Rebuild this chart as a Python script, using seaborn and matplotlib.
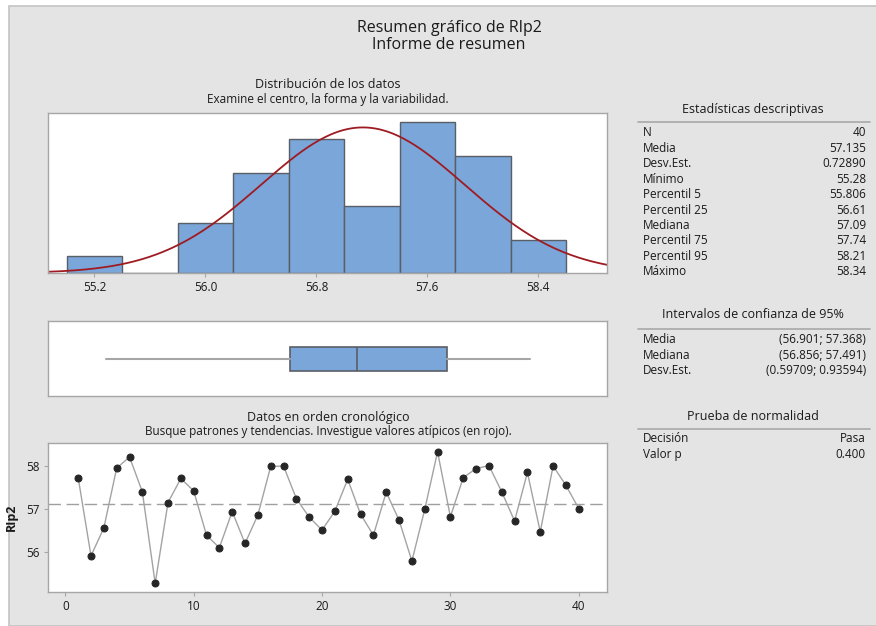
import numpy as np
import pandas as pd
import matplotlib
matplotlib.use("Agg")
import matplotlib.pyplot as plt
from matplotlib.patches import Rectangle
import seaborn as sns

# ---------------- data ----------------
observations = list(range(1, 41))
rip2 = [57.74, 55.92, 56.57, 57.96, 58.22, 57.41, 55.28, 57.16, 57.72, 57.43,
        56.40, 56.11, 56.95, 56.21, 56.87, 58.00, 58.01, 57.25, 56.82, 56.52,
        56.96, 57.70, 56.89, 56.40, 57.40, 56.75, 55.80, 57.00, 58.34, 56.83,
        57.74, 57.95, 58.02, 57.41, 56.73, 57.86, 56.48, 58.01, 57.56, 57.02]

hist_ticks = [55.2, 56.0, 56.8, 57.6, 58.4]
time_xticks = [0, 10, 20, 30, 40]
time_yticks = [56, 57, 58]

desc_labels = ["N", "Media", "Desv.Est.", "Mínimo", "Percentil 5", "Percentil 25",
               "Mediana", "Percentil 75", "Percentil 95", "Máximo"]
desc_values = ["40", "57.135", "0.72890", "55.28", "55.806", "56.61",
               "57.09", "57.74", "58.21", "58.34"]
ci_labels = ["Media", "Mediana", "Desv.Est."]
ci_values = ["(56.901; 57.368)", "(56.856; 57.491)", "(0.59709; 0.93594)"]
norm_labels = ["Decisión", "Valor p"]
norm_values = ["Pasa", "0.400"]

df = pd.DataFrame({"obs": observations, "RIp2": rip2})

# ---------------- style ----------------
sns.set_style("white")
plt.rcParams["font.family"] = ["Open Sans", "DejaVu Sans"]

W, H = 876, 626
fig = plt.figure(figsize=(W / 100, H / 100), dpi=100)
fig.patch.set_facecolor("white")
fig.add_artist(Rectangle((9 / W, 0), 1, 1 - 6 / H, transform=fig.transFigure,
                         facecolor="#E4E4E4", edgecolor="#C4C4C4", lw=1.2, zorder=-10))


def fx(x):
    return x / W


def fy(y):
    return 1 - y / H


def ax_rect(l, t, r, b):
    return [fx(l), fy(b), (r - l) / W, (b - t) / H]


BLUE = "#7BA6D9"
EDGE = "#5A5E66"
GRID = "#A6A6A6"
TXT = "#1a1a1a"

fig.text(fx(449), fy(28), "Resumen gráfico de RIp2", ha="center", va="center",
         fontsize=11.5, color=TXT)
fig.text(fx(449), fy(45), "Informe de resumen", ha="center", va="center",
         fontsize=11.5, color=TXT)


def style_frame(ax):
    for s in ax.spines.values():
        s.set_color(GRID)
        s.set_linewidth(1.0)
    ax.set_facecolor("white")


# ---------------- histogram ----------------
axh = fig.add_axes(ax_rect(48, 113, 607, 273))
edges = np.round(np.arange(55.0, 58.61, 0.4), 2)
sns.histplot(data=df, x="RIp2", bins=edges, ax=axh, color=BLUE, alpha=1,
             edgecolor=EDGE, linewidth=1.0)
mu = float(np.mean(rip2))
sd = float(np.std(rip2, ddof=1))
xs = np.linspace(54.865, 58.895, 300)
ys = len(rip2) * 0.4 * np.exp(-0.5 * ((xs - mu) / sd) ** 2) / (sd * np.sqrt(2 * np.pi))
axh.plot(xs, ys, color="#9E1B22", lw=1.3)
axh.set_xlim(54.865, 58.895)
axh.set_ylim(0, 9.56)
axh.set_xticks(hist_ticks)
axh.set_xticklabels([f"{t:.1f}" for t in hist_ticks])
axh.set_yticks([])
axh.set_xlabel("")
axh.set_ylabel("")
style_frame(axh)
axh.tick_params(axis="x", length=3, color=GRID, labelsize=8.5, pad=3, labelcolor=TXT)
axh.tick_params(axis="x", bottom=True)
fig.text(fx(328), fy(84), "Distribución de los datos", ha="center", va="center",
         fontsize=9, color=TXT)
fig.text(fx(328), fy(99), "Examine el centro, la forma y la variabilidad.",
         ha="center", va="center", fontsize=8.5, color=TXT)

# ---------------- boxplot ----------------
axb = fig.add_axes(ax_rect(48, 321, 607, 396))
arr = np.array(rip2)
q1, med, q3 = np.percentile(arr, [25, 50, 75], method="weibull")
stats = [dict(med=med, q1=q1, q3=q3, whislo=arr.min(), whishi=arr.max(), fliers=[])]
axb.bxp(stats, orientation="horizontal", widths=0.33, positions=[0.494],
        showcaps=False, patch_artist=True,
        boxprops=dict(facecolor=BLUE, edgecolor=EDGE, lw=1.2),
        medianprops=dict(color=EDGE, lw=1.2),
        whiskerprops=dict(color=GRID, lw=1.5))
axb.set_xlim(54.865, 58.895)
axb.set_ylim(0, 1)
axb.set_xticks([])
axb.set_yticks([])
style_frame(axb)

# ---------------- time series ----------------
axt = fig.add_axes(ax_rect(48, 443, 607, 592))
sns.lineplot(data=df, x="obs", y="RIp2", ax=axt, color="#A3A3A3", lw=1.0,
             marker="o", markersize=5, markerfacecolor="#262626",
             markeredgecolor="#262626")
axt.axhline(mu, color="#A0A0A0", lw=1.0, ls=(0, (9, 4)), zorder=0)
axt.set_xlim(-1.35, 42.2)
axt.set_ylim(55.08, 58.545)
axt.set_xticks(time_xticks)
axt.set_yticks(time_yticks)
axt.set_xlabel("")
axt.set_ylabel("RIp2", fontsize=9, fontweight="bold", color=TXT, labelpad=6)
style_frame(axt)
axt.tick_params(axis="both", length=3, color=GRID, labelsize=8.5, pad=3,
                labelcolor=TXT, bottom=True, left=True)
fig.text(fx(328), fy(417), "Datos en orden cronológico", ha="center", va="center",
         fontsize=9, color=TXT)
fig.text(fx(328), fy(432),
         "Busque patrones y tendencias. Investigue valores atípicos (en rojo).",
         ha="center", va="center", fontsize=8.5, color=TXT)

# ---------------- statistics panel ----------------
LX, RX = 643, 866


def section(title, ty, line_y, labels, values, y0, step=15.4):
    fig.text(fx(753), fy(ty), title, ha="center", va="center", fontsize=9, color=TXT)
    fig.add_artist(plt.Line2D([fx(638), fx(870)], [fy(line_y), fy(line_y)],
                              color="#A8A8A8", lw=1.2))
    for i, (lab, val) in enumerate(zip(labels, values)):
        yy = fy(y0 + i * step)
        fig.text(fx(LX), yy, lab, ha="left", va="center", fontsize=8.5, color=TXT)
        fig.text(fx(RX), yy, val, ha="right", va="center", fontsize=8.5, color=TXT)


section("Estadísticas descriptivas", 110, 122, desc_labels, desc_values, 133)
section("Intervalos de confianza de 95%", 315, 329, ci_labels, ci_values, 340)
section("Prueba de normalidad", 416, 429, norm_labels, norm_values, 439)

fig.savefig("out.png", dpi=100, facecolor=fig.get_facecolor())
